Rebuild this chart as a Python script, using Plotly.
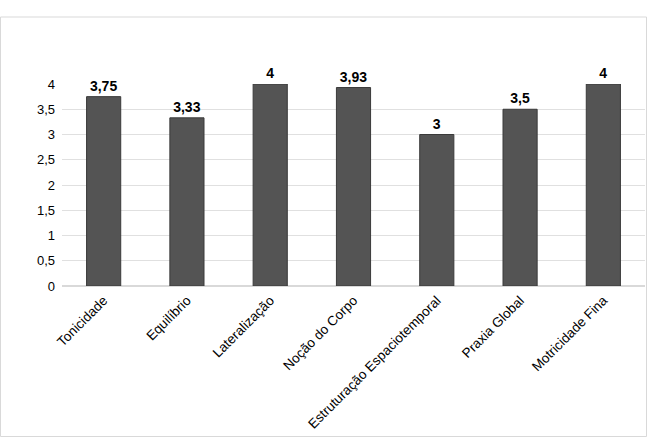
import plotly.graph_objects as go

categories = ["Tonicidade", "Equilíbrio", "Lateralização", "Noção do Corpo",
              "Estruturação Espaciotemporal", "Praxia Global", "Motricidade Fina"]
values = [3.75, 3.33, 4, 3.93, 3, 3.5, 4]
labels = ["3,75", "3,33", "4", "3,93", "3", "3,5", "4"]
yticks = [0, 0.5, 1, 1.5, 2, 2.5, 3, 3.5, 4]
ytick_text = ["0", "0,5", "1", "1,5", "2", "2,5", "3", "3,5", "4"]

W, H = 652, 439
L, R, T, B = 62, 7, 84, 153
pw, ph = W - L - R, H - T - B

fig = go.Figure()
fig.add_trace(go.Bar(
    x=categories, y=values,
    text=["<b>" + t + "</b>" for t in labels],
    textposition="outside",
    textfont=dict(family="Liberation Sans, Arial", size=14, color="#000000"),
    cliponaxis=False,
    marker=dict(color="#545454", line=dict(color="#3a3a3a", width=1)),
    width=0.41,
))

def px2x(px):
    return (px - L) / pw

def py2y(py):
    return (H - B - py) / ph

fig.add_shape(type="rect", xref="paper", yref="paper",
              x0=px2x(0.5), x1=px2x(646.5), y0=py2y(436.5), y1=py2y(17),
              line=dict(color="#d9d9d9", width=1), fillcolor="rgba(0,0,0,0)", layer="below")

fig.update_layout(
    width=W, height=H,
    margin=dict(l=L, r=R, t=T, b=B, autoexpand=False),
    paper_bgcolor="white", plot_bgcolor="white",
    showlegend=False,
    separators=",.",
    font=dict(family="Liberation Sans, Arial", size=13, color="#000000"),
    xaxis=dict(tickangle=-45, showgrid=False, showline=False, ticks="",
               tickfont=dict(size=13.5), automargin=False, ticklabelstandoff=3),
    yaxis=dict(range=[0, 4], tickvals=yticks, ticktext=ytick_text,
               showgrid=True, gridcolor="#e0e0e0", gridwidth=1,
               zeroline=True, zerolinecolor="#d9d9d9", showline=False,
               ticks="", tickfont=dict(size=13), automargin=False,
               ticklabelstandoff=6),
)

fig.write_html("out.html")
